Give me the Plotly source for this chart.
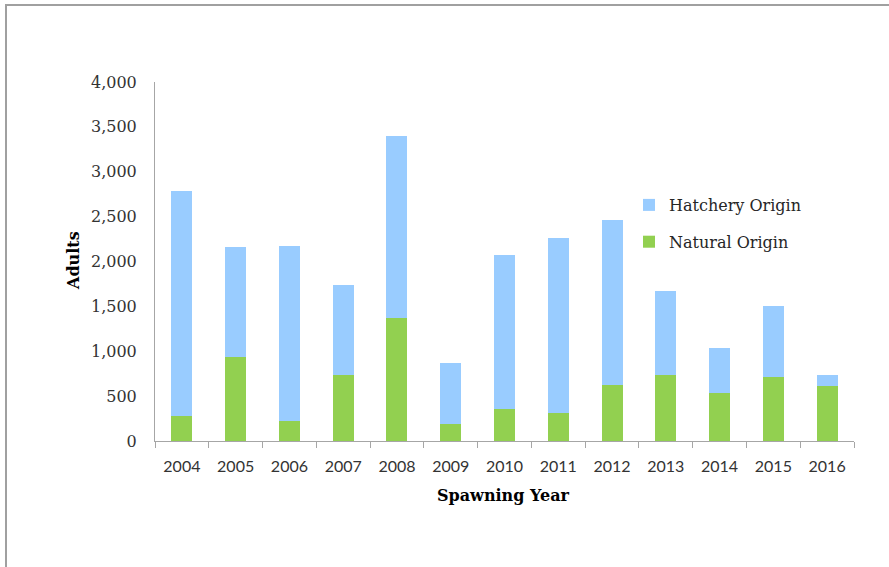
import plotly.graph_objects as go

years = ["2004", "2005", "2006", "2007", "2008", "2009", "2010",
         "2011", "2012", "2013", "2014", "2015", "2016"]
natural = [279, 933, 223, 735, 1367, 186, 356, 308, 624, 735, 531, 717, 616]
hatchery = [2507, 1232, 1953, 1003, 2028, 687, 1716, 1950, 1838, 940, 502, 787, 119]
y_ticks = [0, 500, 1000, 1500, 2000, 2500, 3000, 3500, 4000]
y_tick_labels = ["0", "500", "1,000", "1,500", "2,000", "2,500", "3,000", "3,500", "4,000"]

SERIF = "DejaVu Serif"
SANS = "Lato"
TXT = "#333333"
AXIS = "#a6a6a6"

W, H = 889, 567
# plot area in page pixels
SX0, SX1, SY0, SY1 = 155, 854, 82, 441
L = SX0
R = W - SX1
T = SY0
B = H - SY1
pw = SX1 - SX0
ph = SY1 - SY0


def px_x(x):
    return (x - SX0) / pw


def px_y(y):
    return (SY1 - y) / ph


fig = go.Figure()
fig.add_trace(go.Bar(x=years, y=natural, name="Natural Origin",
                     marker=dict(color="#92D050", line=dict(width=0)),
                     legendgroup="n", legendrank=2))
fig.add_trace(go.Bar(x=years, y=hatchery, name="Hatchery Origin",
                     marker=dict(color="#99CCFF", line=dict(width=0)),
                     legendgroup="h", legendrank=1))

fig.update_layout(
    width=W, height=H,
    margin=dict(l=L, r=R, t=T, b=B, autoexpand=False),
    paper_bgcolor="white", plot_bgcolor="white",
    barmode="stack", bargap=0.61,
    showlegend=True,
    legend=dict(x=px_x(629), y=px_y(188), xanchor="left", yanchor="top",
                font=dict(family=SERIF, size=16, color="#262626"),
                traceorder="grouped", tracegroupgap=13,
                itemwidth=30, bgcolor="rgba(0,0,0,0)"),
    xaxis=dict(type="category", showline=True, linecolor=AXIS, linewidth=1,
               ticks="outside", ticklen=6, tickcolor=AXIS, tickson="boundaries",
               ticklabelstandoff=11,
               tickfont=dict(family=SANS, size=16, color=TXT),
               showgrid=False, zeroline=False),
    yaxis=dict(range=[0, 4000], tickvals=y_ticks, ticktext=y_tick_labels,
               showline=True, linecolor=AXIS, linewidth=1, ticks="",
               ticklabelstandoff=14,
               tickfont=dict(family=SERIF, size=16, color=TXT),
               showgrid=False, zeroline=False),
    annotations=[
        dict(text="<b>Adults</b>", xref="paper", yref="paper",
             x=px_x(73), y=px_y(261), textangle=-90, showarrow=False,
             font=dict(family=SERIF, size=16, color="#000000"),
             xanchor="center", yanchor="middle"),
        dict(text="<b>Spawning Year</b>", xref="paper", yref="paper",
             x=px_x(503), y=px_y(496), showarrow=False,
             font=dict(family=SERIF, size=16, color="#000000"),
             xanchor="center", yanchor="middle"),
    ],
    shapes=[
        dict(type="path", xref="paper", yref="paper",
             path=f"M {px_x(6)},{px_y(567)} L {px_x(6)},{px_y(5)} L {px_x(889)},{px_y(5)}",
             line=dict(color="#a0a0a0", width=2)),
    ],
)

fig.write_html(
    "out.html",
    config={"displayModeBar": False},
    post_script="document.body.style.margin='0';document.body.style.overflow='hidden';",
)
